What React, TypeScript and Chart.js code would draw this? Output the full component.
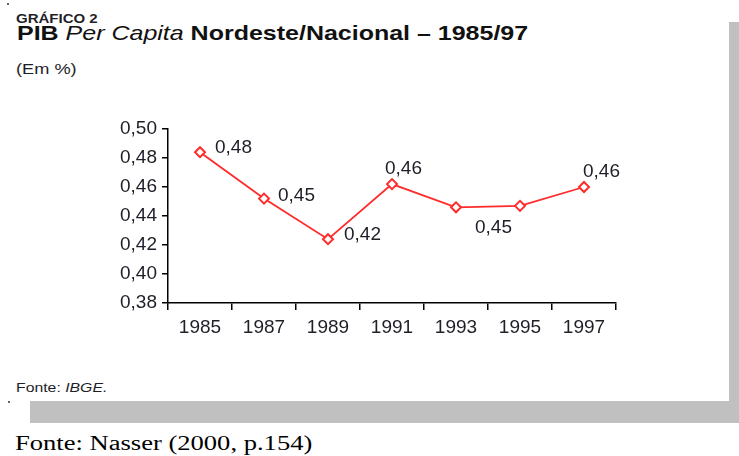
import React, { useEffect, useRef } from "react";
import { Chart, registerables } from "chart.js";

Chart.register(...registerables);

const categories = ["1985", "1987", "1989", "1991", "1993", "1995", "1997"];
const values = [0.484, 0.452, 0.424, 0.462, 0.446, 0.447, 0.46];
const dataLabels = ["0,48", "0,45", "0,42", "0,46", "", "0,45", "0,46"];
const yMin = 0.38;
const yMax = 0.5;
const yStep = 0.02;

// label placement offsets (style only): [dx to left edge, dy to text middle]
const labelOffsets: [number, number][] = [
  [15, -4],
  [14, -3],
  [16, -4],
  [-7, -15],
  [0, 0],
  [-45, 22],
  [-1, -15],
];

const RED = "#ff2b2b";
const TEXT = "#1e1e28";
const CANVAS_FONT = "'Liberation Sans', Arial, sans-serif";

const labelPlugin = {
  id: "pointLabels",
  afterDatasetsDraw(chart: any) {
    const ctx = chart.ctx;
    const meta = chart.getDatasetMeta(0);
    ctx.save();
    ctx.font = `19px ${CANVAS_FONT}`;
    ctx.fillStyle = TEXT;
    ctx.textAlign = "left";
    ctx.textBaseline = "middle";
    meta.data.forEach((pt: any, i: number) => {
      const txt = dataLabels[i];
      if (!txt) return;
      const [dx, dy] = labelOffsets[i];
      ctx.fillText(txt, pt.x + dx, pt.y + dy);
    });
    ctx.restore();
  },
};

function LineChart() {
  const ref = useRef<HTMLCanvasElement | null>(null);
  useEffect(() => {
    if (!ref.current) return;
    const chart = new Chart(ref.current, {
      type: "line",
      data: {
        labels: categories,
        datasets: [
          {
            data: values,
            borderColor: RED,
            borderWidth: 1.8,
            pointStyle: "rectRot",
            pointRadius: 5,
            pointBorderWidth: 2,
            pointBackgroundColor: "#ffffff",
            pointBorderColor: RED,
            tension: 0,
          },
        ],
      },
      options: {
        responsive: false,
        animation: false,
        events: [],
        layout: { padding: { left: 0, top: 19, right: 44, bottom: 0 } },
        plugins: { legend: { display: false }, tooltip: { enabled: false } },
        scales: {
          x: {
            offset: true,
            grid: {
              offset: true,
              drawOnChartArea: false,
              drawTicks: true,
              tickLength: 7,
              color: "#000",
              lineWidth: 1.5,
            },
            border: { color: "#000", width: 1.5 },
            ticks: {
              font: { family: CANVAS_FONT, size: 19 },
              color: TEXT,
              padding: 6,
              maxRotation: 0,
              autoSkip: false,
            },
            afterFit(scale: any) {
              scale.height = 47;
            },
          },
          y: {
            min: yMin,
            max: yMax,
            grid: {
              drawOnChartArea: false,
              drawTicks: true,
              tickLength: 6,
              color: "#000",
              lineWidth: 1.5,
            },
            border: { color: "#000", width: 1.5 },
            ticks: {
              stepSize: yStep,
              font: { family: CANVAS_FONT, size: 19 },
              color: TEXT,
              padding: 5,
              callback: (v: any) => Number(v).toFixed(2).replace(".", ","),
            },
            afterFit(scale: any) {
              scale.width = 68;
            },
          },
        },
      },
      plugins: [labelPlugin],
    });
    return () => chart.destroy();
  }, []);
  return (
    <canvas
      ref={ref}
      width={560}
      height={240}
      style={{ position: "absolute", left: 100, top: 110, width: 560, height: 240 }}
    />
  );
}

const sans = "'Liberation Sans', Arial, sans-serif";

export default function App() {
  const txt = (extra: React.CSSProperties): React.CSSProperties => ({
    position: "absolute",
    whiteSpace: "nowrap",
    lineHeight: 1,
    fontFamily: sans,
    color: TEXT,
    transformOrigin: "left top",
    ...extra,
  });
  return (
    <div
      style={{
        position: "absolute",
        left: 0,
        top: 0,
        width: 739,
        height: 456,
        background: "#fff",
        overflow: "hidden",
      }}
    >
      <div style={{ position: "absolute", left: 7, top: 3, width: 2, height: 2, background: "#666" }} />
      <div style={{ position: "absolute", left: 8, top: 401, width: 2, height: 2, background: "#666" }} />
      <div style={txt({ left: 16, top: 13.4, fontSize: 12.5, fontWeight: "bold", transform: "scaleX(1.2)" })}>
        GRÁFICO 2
      </div>
      <div style={txt({ left: 17, top: 22.3, fontSize: 21, fontWeight: "bold", transform: "scaleX(1.19)", color: "#111" })}>
        PIB <span style={{ fontStyle: "italic", fontWeight: "normal" }}>Per Capita</span> Nordeste/Nacional – 1985/97
      </div>
      <div style={txt({ left: 16, top: 61.5, fontSize: 14, transform: "scaleX(1.3)" })}>(Em %)</div>
      <div style={txt({ left: 16, top: 381, fontSize: 13.5, transform: "scaleX(1.17)" })}>
        Fonte: <span style={{ fontStyle: "italic" }}>IBGE.</span>
      </div>
      <div style={{ position: "absolute", left: 729, top: 22, width: 10, height: 401, background: "#c0c0c0" }} />
      <div style={{ position: "absolute", left: 30, top: 401, width: 709, height: 22, background: "#c0c0c0" }} />
      <div
        style={{
          position: "absolute",
          left: 15,
          top: 433,
          whiteSpace: "nowrap",
          lineHeight: 1,
          fontFamily: "'Liberation Serif', 'Times New Roman', serif",
          fontSize: 21.6,
          color: "#000",
          transform: "scaleX(1.23)",
          transformOrigin: "left top",
        }}
      >
        Fonte: Nasser (2000, p.154)
      </div>
      <LineChart />
    </div>
  );
}
